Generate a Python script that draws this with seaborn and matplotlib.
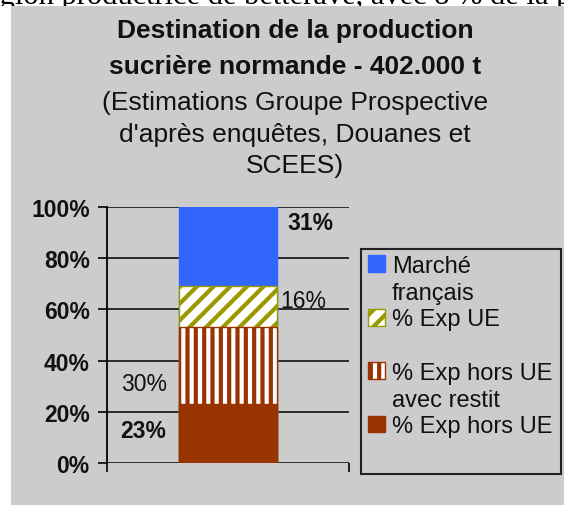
import numpy as np
import pandas as pd
import matplotlib
matplotlib.use("Agg")
import matplotlib.pyplot as plt
from matplotlib.patches import Rectangle, Patch
from matplotlib.transforms import Bbox, TransformedBbox
import seaborn as sns

# ---- data -------------------------------------------------------------
region = ["Normandie"]
series = ["% Exp hors UE", "% Exp hors UE avec restit", "% Exp UE", "Marché français"]
shares = [23, 30, 16, 31]                 # % of the 402.000 t
y_ticks = [0, 20, 40, 60, 80, 100]
y_tick_labels = ["0%", "20%", "40%", "60%", "80%", "100%"]

# ---- styles -----------------------------------------------------------
BLUE, OLIVE, BROWN, GREY = "#3366FF", "#999900", "#993300", "#CCCCCC"
face = [BROWN, "white", "white", BLUE]
edge = [BROWN, BROWN, OLIVE, BLUE]
hatch = [None, "||", "//", None]
# where each value label sits: (x in data units, y in %, alignment, weight)
label_pos = [(-0.35, 12.5, "center", "bold"), (-0.345, 31, "center", "normal"),
             (0.215, 63.3, "left", "normal"), (0.244, 94.1, "left", "bold")]

sns.set_theme(style="white")
plt.rcParams["font.family"] = ["Liberation Sans", "DejaVu Sans"]
plt.rcParams["hatch.linewidth"] = 3.0

W, H = 564, 506
fig = plt.figure(figsize=(W / 100, H / 100), dpi=100)
fig.patch.set_facecolor("white")

def fx(px):
    return px / W

def fy(py):
    return 1 - py / H

# running text of the page above the chart panel, cut by the panel edge
strip = TransformedBbox(Bbox([[0, fy(7)], [1, 1]]), fig.transFigure)
fig.text(fx(-24), fy(4), "région productrice de betterave, avec 8 % de la p",
         family=["Liberation Serif", "DejaVu Serif"], fontsize=22,
         color="black", va="baseline", ha="left", zorder=-2,
         clip_box=strip, clip_on=True)
# grey chart panel
fig.patches.append(Rectangle((fx(11), 0), fx(W - 11), fy(7), transform=fig.transFigure,
                             facecolor=GREY, edgecolor="none", zorder=-1))

# ---- title ------------------------------------------------------------
title_lines = [("Destination de la production", "bold", 38),
               ("sucrière normande - 402.000 t", "bold", 74),
               ("(Estimations Groupe Prospective", "normal", 110),
               ("d'après enquêtes, Douanes et", "normal", 142),
               ("SCEES)", "normal", 173)]
for txt, wt, base in title_lines:
    fig.text(fx(295), fy(base), txt, ha="center", va="baseline", fontsize=19,
             fontweight=wt, color="#111111")

# ---- stacked bar ------------------------------------------------------
ax = fig.add_axes([fx(107), fy(464), fx(349 - 107), (464 - 208) / H])
ax.set_facecolor("none")
tops = np.cumsum(shares)
# draw cumulative totals from the tallest down so each segment covers the next
for i in range(len(series) - 1, -1, -1):
    df = pd.DataFrame({"region": region, "top": [tops[i]]})
    sns.barplot(data=df, x="region", y="top", color=face[i], saturation=1,
                width=0.405, edgecolor=edge[i], linewidth=1.0,
                hatch=hatch[i], errorbar=None, ax=ax, zorder=3)

ax.set_xlim(-0.5, 0.5)
ax.set_ylim(0, 100)
ax.set_yticks(y_ticks)
ax.set_yticklabels(y_tick_labels, fontsize=16.5, color="#111111", fontweight="bold")
ax.set_xticks([-0.5, 0.5])
ax.set_xticklabels([])
ax.set_xlabel("")
ax.set_ylabel("")
ax.tick_params(axis="both", direction="out", length=6.5, width=1.2, color="black",
               pad=6, left=True, bottom=True)
ax.yaxis.grid(True, color="black", linewidth=1.1)
ax.xaxis.grid(False)
ax.set_axisbelow(True)
for s in ["top", "right", "bottom"]:
    ax.spines[s].set_visible(False)
ax.spines["left"].set_color("black")
ax.spines["left"].set_linewidth(1.3)

for v, (lx, ly, ha, wt) in zip(shares, label_pos):
    ax.text(lx, ly, f"{v}%", ha=ha, va="center", fontsize=16.5, color="#111111",
            fontweight=wt, zorder=5)

# ---- legend -----------------------------------------------------------
blank = Patch(facecolor="none", edgecolor="none")
handles = [Patch(facecolor=BLUE, edgecolor=BLUE), blank,
           Patch(facecolor="white", edgecolor=OLIVE, hatch="//", linewidth=1.0), blank,
           Patch(facecolor="white", edgecolor=BROWN, hatch="||", linewidth=1.0), blank,
           Patch(facecolor=BROWN, edgecolor=BROWN)]
labels = ["Marché", "français", "% Exp UE", "", "% Exp hors UE", "avec restit",
          "% Exp hors UE"]
fig.legend(handles, labels, loc="upper left", bbox_to_anchor=(fx(368), fy(256)),
           bbox_transform=fig.transFigure, frameon=False, fontsize=17,
           handlelength=0.72, handleheight=0.72, handletextpad=0.3,
           labelspacing=0.2, borderpad=0, borderaxespad=0, labelcolor="#111111")
fig.patches.append(Rectangle((fx(361), fy(475)), fx(200), (475 - 250) / H,
                             transform=fig.transFigure, fill=False,
                             edgecolor="#222222", linewidth=1.5, zorder=4))

fig.savefig("out.png", dpi=100, facecolor=fig.get_facecolor())
